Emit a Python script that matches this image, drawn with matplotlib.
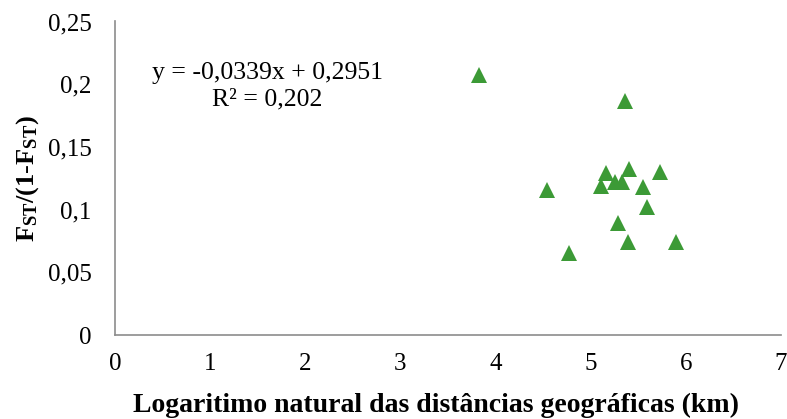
import numpy as np
import matplotlib.pyplot as plt

# Log of geographic distance vs. Fst/(1-Fst)
ln_dist = [3.83, 5.36, 4.54, 4.77, 5.16, 5.11, 5.25, 5.33, 5.40, 5.73,
           5.55, 5.59, 5.29, 5.39, 5.90]
fst_ratio = [0.207, 0.187, 0.116, 0.065, 0.129, 0.119, 0.122, 0.122, 0.132, 0.130,
             0.118, 0.102, 0.089, 0.074, 0.074]

x_ticks = [0, 1, 2, 3, 4, 5, 6, 7]
y_ticks = [0, 0.05, 0.1, 0.15, 0.2, 0.25]
y_tick_labels = ['0', '0,05', '0,1', '0,15', '0,2', '0,25']

plt.rcParams['font.family'] = ['Liberation Serif', 'DejaVu Serif']
plt.rcParams['mathtext.fontset'] = 'custom'
plt.rcParams['mathtext.rm'] = 'Liberation Serif'
plt.rcParams['mathtext.bf'] = 'Liberation Serif:bold'

fig = plt.figure(figsize=(7.87, 4.19), dpi=100)
ax = fig.add_axes([115 / 787, 1 - 335 / 419, 666 / 787, 313.5 / 419])

ax.plot(ln_dist, fst_ratio, linestyle='none', marker='^', markersize=11,
        color='#3c9a36', markeredgewidth=0, clip_on=False)

ax.set_xlim(0, 7)
ax.set_ylim(0, 0.25)
ax.set_xticks(x_ticks)
ax.set_xticklabels([str(t) for t in x_ticks])
ax.set_yticks(y_ticks)
ax.set_yticklabels(y_tick_labels)
ax.tick_params(length=0, labelsize=18, colors='black')
ax.tick_params(axis='x', pad=13)
ax.tick_params(axis='y', pad=17)

for side in ['top', 'right']:
    ax.spines[side].set_visible(False)
for side in ['left', 'bottom']:
    ax.spines[side].set_color('#8c8c8c')
    ax.spines[side].set_linewidth(1.2)

ax.set_xlabel('Logaritimo natural das distâncias geográficas (km)',
              fontsize=20, fontweight='bold')
ax.xaxis.set_label_coords(0.482, -0.185)
ax.set_ylabel(r'$\mathbf{F_{ST}/(1\text{-}F_{ST})}$', fontsize=19, labelpad=5)

ax.text(267 / 787, 1 - 86 / 419, 'y = -0,0339x + 0,2951\nR² = 0,202',
        transform=fig.transFigure, fontsize=18.5, ha='center', va='center',
        linespacing=1.25)

fig.savefig('out.png', dpi=100)
